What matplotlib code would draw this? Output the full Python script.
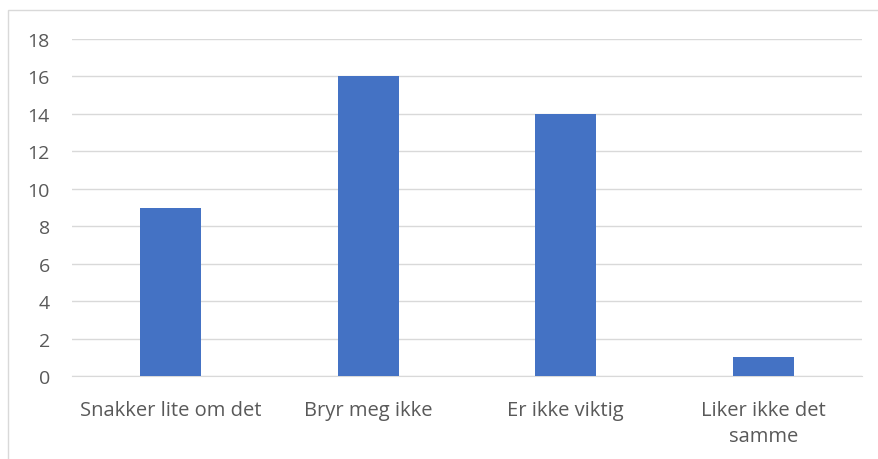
import matplotlib.pyplot as plt
from matplotlib.patches import Rectangle

categories = ['Snakker lite om det', 'Bryr meg ikke', 'Er ikke viktig', 'Liker ikke det\nsamme']
values = [9, 16, 14, 1]
yticks = list(range(0, 20, 2))

plt.rcParams['font.family'] = ['Open Sans', 'DejaVu Sans']

fig = plt.figure(figsize=(8.79, 4.6), dpi=100)
ax = fig.add_axes([72 / 879, 83 / 460, 790 / 879, 337 / 460])

x = range(len(categories))
ax.bar(x, values, width=0.31, color='#4472C4', zorder=3)

ax.set_xlim(-0.5, len(categories) - 0.5)
ax.set_ylim(0, 18)
ax.set_yticks(yticks)
ax.set_xticks(list(x))
ax.set_xticklabels(categories, color='#595959', fontsize=14.5, linespacing=1.4)
ax.tick_params(axis='y', colors='#595959', labelsize=14, length=0, pad=16)
ax.tick_params(axis='x', length=0, pad=17)
ax.grid(axis='y', color='#D9D9D9', linewidth=1, zorder=0)
for s in ['top', 'right', 'left']:
    ax.spines[s].set_visible(False)
ax.spines['bottom'].set_color('#D9D9D9')

# chart border
fig.patches.append(Rectangle((8 / 879, -0.05), 1.0, 1 - 11 / 460 + 0.05,
                             transform=fig.transFigure, fill=False,
                             edgecolor='#D9D9D9', linewidth=1))

fig.savefig('out.png', dpi=100)
